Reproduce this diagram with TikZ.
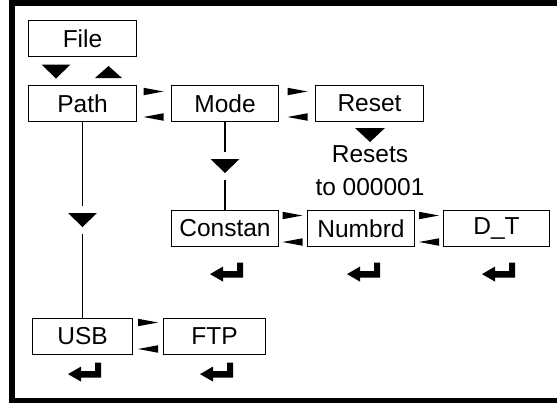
\documentclass[tikz,border=0pt]{standalone}
\usepackage{fontspec}
\setmainfont{Liberation Sans}
\begin{document}
\begin{tikzpicture}[x=1pt,y=-1pt,
  box/.style={draw,line width=1.2pt,minimum height=36pt,inner sep=0pt,font=\fontsize{24.5}{28}\selectfont},
  note/.style={align=center,inner sep=0pt,font=\fontsize{24.5}{33}\selectfont},
  tridown/.style={minimum width=29pt,minimum height=14pt,inner sep=0pt,outer sep=7pt,
    path picture={\fill (path picture bounding box.north west) -- (path picture bounding box.north east)
      -- (path picture bounding box.south) -- cycle;}},
  triup/.style={minimum width=27pt,minimum height=12pt,inner sep=0pt,
    path picture={\fill (path picture bounding box.south west) -- (path picture bounding box.south east)
      -- (path picture bounding box.north) -- cycle;}},
  triright/.style={minimum width=20pt,minimum height=7.5pt,inner sep=0pt,
    path picture={\fill (path picture bounding box.north west) -- (path picture bounding box.south west)
      -- (path picture bounding box.east) -- cycle;}},
  trileft/.style={minimum width=20pt,minimum height=7.5pt,inner sep=0pt,
    path picture={\fill (path picture bounding box.north east) -- (path picture bounding box.south east)
      -- (path picture bounding box.west) -- cycle;}},
  enterkey/.pic={\fill (0,0) -- (13,-7.5) -- (13,-3) -- (27,-3) -- (27,-11.5) -- (33,-11.5)
      -- (33,3.5) -- (13,3.5) -- (13,7.5) -- cycle;}]
\useasboundingbox (0,0) rectangle (557,402);
\draw[line width=5.5pt] (557,3) -| (12,400.5) -- (557,400.5);
\node[box,minimum width=108pt] (File) at (82.5,38.5) {File};
\node[box,minimum width=108pt] (Path) at (82.5,103.5) {Path};
\node[box,minimum width=107pt] (Mode) at (225,103.5) {Mode};
\node[box,minimum width=108pt] (Reset) at (369.5,103.5) {Reset};
\node[box,minimum width=107pt] (Constan) at (225,228.5) {Constan};
\node[box,minimum width=107pt] (Numbrd) at (361,228.5) {Numbrd};
\node[box,minimum width=106pt] (DT) at (496.5,228.5) {D\_T};
\node[box,minimum width=100pt] (USB) at (82.5,336.5) {USB};
\node[box,minimum width=102pt] (FTP) at (214.5,336.5) {FTP};
\node[note] (Resets) at (370,171) {Resets\\to 000001};
\node[tridown,outer sep=0pt] (fdown) at (56,71.5) {};
\node[triup] (fup) at (108.5,72) {};
\node[tridown,outer sep=0pt,minimum width=30pt] (rdown) at (370,135) {};
\node[tridown] (pdown) at (82.5,220) {};
\node[tridown] (mdown) at (225,166) {};
\draw[line width=1.2pt] (Path) -- (pdown) -- (USB);
\draw[line width=1.2pt] (Mode) -- (mdown) -- (Constan);
\foreach \x/\ya/\yb in {153.5/91.5/117, 297.5/91.5/117, 292.5/215.5/242, 429/215.5/242, 148/322.5/349}{
  \node[triright] at (\x,\ya) {};
  \node[trileft] at (\x,\yb) {};
}
\pic at ([xshift=-15pt,yshift=-27pt]Constan.south) {enterkey};
\pic at ([xshift=-14pt,yshift=-27pt]Numbrd.south) {enterkey};
\pic at ([xshift=-14.5pt,yshift=-27pt]DT.south) {enterkey};
\pic at ([xshift=-14.5pt,yshift=-19pt]USB.south) {enterkey};
\pic at ([xshift=-14.5pt,yshift=-19pt]FTP.south) {enterkey};
\end{tikzpicture}
\end{document}
